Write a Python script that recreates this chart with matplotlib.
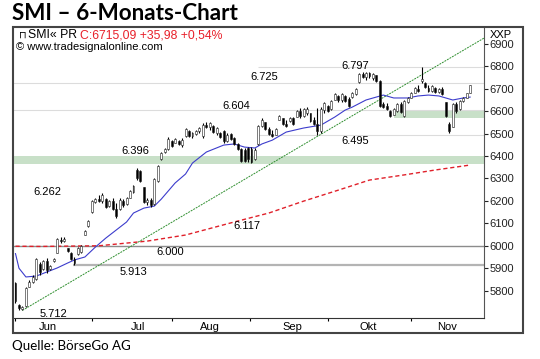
import matplotlib
matplotlib.use('Agg')
import matplotlib.pyplot as plt
from matplotlib.patches import Rectangle
from matplotlib.transforms import blended_transform_factory

# SMI daily bars, trading days from start of June
opens = [5832, 5735, 5720, 5730, 5818, 5838, 5850, 5920, 5895, 5930, 5895, 5930, 5970, 6025, 6020, 5988,
         5970, 5940, 5962, 5972, 6050, 6086, 6150, 6195, 6210, 6200, 6210, 6176, 6200, 6165, 6162, 6200,
         6185, 6215, 6240, 6340, 6335, 6262, 6195, 6205, 6185, 6290, 6385, 6418, 6430, 6468, 6460, 6468,
         6450, 6488, 6510, 6490, 6500, 6510, 6490, 6540, 6530, 6535, 6505, 6505, 6510, 6465, 6498, 6480,
         6455, 6430, 6425, 6435, 6432, 6385, 6452, 6535, 6550, 6520, 6498, 6495, 6563, 6568, 6545, 6555,
         6570, 6576, 6600, 6580, 6590, 6590, 6560, 6545, 6512, 6605, 6625, 6608, 6652, 6670, 6648, 6668,
         6655, 6662, 6675, 6730, 6765, 6752, 6770, 6750, 6760, 6735, 6630, 6625, 6600, 6585, 6600, 6630,
         6580, 6640, 6660, 6683, 6700, 6735, 6728, 6705, 6690, 6705, 6685, 6700, 6640, 6545, 6530, 6630,
         6608, 6645, 6660, 6682]
highs = [5840, 5740, 5730, 5816, 5847, 5870, 5946, 5928, 5937, 5946, 5915, 5946, 6034, 6039, 6039, 5990,
         5972, 5950, 5994, 6003, 6070, 6115, 6204, 6213, 6226, 6235, 6213, 6204, 6213, 6191, 6213, 6208,
         6217, 6249, 6271, 6347, 6338, 6262, 6213, 6213, 6302, 6360, 6418, 6436, 6485, 6471, 6480, 6471,
         6480, 6525, 6516, 6507, 6516, 6529, 6547, 6552, 6552, 6538, 6529, 6507, 6516, 6503, 6503, 6485,
         6458, 6436, 6436, 6440, 6440, 6436, 6538, 6570, 6552, 6529, 6516, 6525, 6583, 6570, 6561, 6574,
         6574, 6605, 6614, 6614, 6618, 6592, 6574, 6614, 6618, 6641, 6627, 6650, 6681, 6672, 6681, 6672,
         6663, 6685, 6703, 6770, 6774, 6774, 6774, 6770, 6761, 6739, 6641, 6636, 6605, 6614, 6636, 6641,
         6650, 6663, 6685, 6708, 6717, 6797, 6730, 6717, 6717, 6708, 6703, 6708, 6641, 6552, 6636, 6641,
         6650, 6663, 6681, 6717]
lows = [5745, 5715, 5712, 5727, 5816, 5834, 5847, 5870, 5892, 5879, 5892, 5928, 5968, 6012, 6017, 5972,
        5937, 5913, 5959, 5968, 6048, 6084, 6146, 6191, 6195, 6191, 6168, 6173, 6159, 6124, 6159, 6173,
        6182, 6213, 6235, 6293, 6284, 6191, 6182, 6173, 6182, 6284, 6382, 6414, 6427, 6440, 6458, 6449,
        6440, 6485, 6485, 6480, 6494, 6503, 6480, 6525, 6516, 6503, 6494, 6480, 6458, 6462, 6471, 6449,
        6427, 6373, 6373, 6373, 6369, 6382, 6449, 6529, 6516, 6494, 6485, 6494, 6561, 6538, 6529, 6552,
        6538, 6574, 6570, 6574, 6583, 6552, 6538, 6495, 6503, 6592, 6596, 6605, 6650, 6641, 6641, 6641,
        6618, 6659, 6672, 6726, 6748, 6739, 6748, 6739, 6730, 6618, 6614, 6605, 6574, 6583, 6596, 6592,
        6574, 6636, 6659, 6681, 6685, 6726, 6703, 6685, 6685, 6681, 6681, 6672, 6574, 6505, 6529, 6592,
        6605, 6641, 6659, 6681]
closes = [5752, 5722, 5726, 5810, 5840, 5862, 5940, 5885, 5930, 5890, 5910, 5942, 6030, 6020, 6030, 5976,
          5940, 5925, 5990, 6000, 6066, 6110, 6200, 6208, 6200, 6228, 6175, 6198, 6165, 6135, 6205, 6180,
          6212, 6245, 6265, 6300, 6290, 6195, 6205, 6180, 6298, 6355, 6412, 6430, 6478, 6445, 6475, 6452,
          6470, 6520, 6490, 6502, 6512, 6525, 6540, 6530, 6548, 6508, 6525, 6485, 6465, 6495, 6475, 6455,
          6432, 6380, 6378, 6385, 6375, 6428, 6532, 6560, 6522, 6500, 6490, 6520, 6580, 6545, 6535, 6570,
          6545, 6600, 6580, 6608, 6612, 6558, 6545, 6510, 6608, 6635, 6600, 6645, 6676, 6648, 6675, 6645,
          6622, 6680, 6698, 6765, 6752, 6770, 6755, 6765, 6735, 6625, 6620, 6610, 6580, 6608, 6630, 6598,
          6645, 6658, 6680, 6702, 6690, 6745, 6708, 6690, 6712, 6685, 6700, 6678, 6578, 6512, 6630, 6600,
          6645, 6658, 6679, 6715]

# short moving average (blue)
ma_days = [0, 1, 3, 6, 9, 12, 15, 17, 20, 23, 26, 29, 32, 34, 37, 40, 42, 46, 49, 51, 55, 60, 63, 66,
           69, 71, 74, 78, 83, 88, 92, 95, 97, 101, 106, 109, 113, 116, 119, 122, 126, 129, 131]
ma_vals = [5965, 5900, 5861, 5865, 5883, 5901, 5923, 5937, 5950, 5994, 6034, 6070, 6106, 6146, 6168,
           6177, 6208, 6280, 6320, 6369, 6418, 6449, 6454, 6440, 6436, 6454, 6471, 6507, 6525, 6538, 6574,
           6605, 6618, 6650, 6672, 6659, 6659, 6668, 6672, 6668, 6650, 6659, 6663]

# long moving average (red dashed)
ma200_days = [0, 7, 24, 38, 49, 63, 73, 83, 93, 102, 112, 121, 131]
ma200_vals = [5998, 5997, 6000, 6021, 6048, 6106, 6146, 6199, 6248, 6293, 6316, 6338, 6360]

# trend line (green)
trend_days = [2, 135]
trend_vals = [5712, 6926]

# marked levels: (text, day, price)
level_labels = [('6.797', 97.8, 6801), ('6.725', 71.6, 6754), ('6.604', 63.5, 6623), ('6.495', 97.8, 6467),
                ('6.396', 34.4, 6422), ('6.262', 9.1, 6240), ('6.117', 66.7, 6088), ('6.000', 44.5, 5972),
                ('5.913', 33.9, 5883), ('5.712', 10.8, 5696)]

month_ticks = [0, 22, 45, 67.5, 90, 114]
month_names = ['Jun', 'Jul', 'Aug', 'Sep', 'Okt', 'Nov']
month_label_pos = [9.4, 35.3, 56, 79.7, 101.6, 124.3]
price_ticks = list(range(5800, 7000, 100))

W, H = 540, 359
fig = plt.figure(figsize=(W / 100, H / 100), dpi=100)
ax = fig.add_axes([13 / W, 1 - 318 / H, 471 / W, 290 / H])
ax.set_xlim(-0.72, 135.0)
ax.set_ylim(5678, 6971)

font = 'Liberation Sans'

# support bands
ax.axhspan(6364, 6400, color='#c8e0c8', zorder=1, lw=0)
ax.fill_between([109, 135], 6570, 6605, color='#c8e0c8', zorder=1, lw=0)

# level lines
for lvl, start in [(6797, 70), (6725, -1), (6604, -1), (6495, 70)]:
    ax.hlines(lvl, start, 135, color='#dcdcdc', lw=0.8, zorder=1)
ax.hlines(6000, -1, 135, color='#8c8c8c', lw=1.0, zorder=2)
ax.hlines(5913, 16.5, 135, color='#b4b4b4', lw=1.6, zorder=2)

ax.plot(trend_days, trend_vals, color='#2f8f2f', lw=0.7, ls=(0, (2, 1)), zorder=3)
ax.plot(ma200_days, ma200_vals, color='#e0202a', lw=1.0, ls=(0, (3, 2)), zorder=3)
ax.plot(ma_days, ma_vals, color='#3c3ccc', lw=0.8, zorder=3)

days = list(range(len(closes)))
ax.vlines(days, lows, highs, color='black', lw=0.8, zorder=4)
for d, o, c in zip(days, opens, closes):
    down = c < o
    ax.add_patch(Rectangle((d - 0.28, min(o, c)), 0.56, max(abs(c - o), 2),
                           facecolor='black' if down else 'white', edgecolor='#202020',
                           lw=0.4, zorder=5))

for txt, d, p in level_labels:
    ax.text(d, p, txt, ha='center', va='center', fontsize=8, family=font, zorder=6)

# axes styling
for side in ['top', 'left']:
    ax.spines[side].set_visible(False)
ax.spines['right'].set_color('#555555')
ax.spines['bottom'].set_color('#333333')
ax.yaxis.tick_right()
ax.set_yticks(price_ticks)
ax.set_yticklabels([str(t) for t in price_ticks], family=font, fontsize=8)
ax.tick_params(axis='y', direction='out', length=3, width=0.8, pad=1, colors='#222222')
ax.set_xticks(month_ticks)
ax.set_xticklabels([])
ax.tick_params(axis='x', direction='out', length=2, width=0.8)

trans = blended_transform_factory(ax.transData, ax.transAxes)
for name, pos in zip(month_names, month_label_pos):
    ax.text(pos, -0.031, name, transform=trans, ha='center', va='center', fontsize=8, family=font)

ax.text(1.012, 0.976, 'XXP', transform=ax.transAxes, ha='left', va='center', fontsize=8, family=font)

# chart header
fig.text(19 / W, 1 - 35 / H, '\u2293', fontsize=7, family='DejaVu Sans', va='center')
t1 = fig.text(28 / W, 1 - 35 / H, 'SMI\u00ab PR ', fontsize=8.8, family=font, va='center')
fig.canvas.draw()
bb = t1.get_window_extent()
fig.text(bb.x1 / W, 1 - 35 / H, 'C:6715,09 +35,98 +0,54%', fontsize=8.8, family=font,
         va='center', color='#e8202a')
fig.text(16 / W, 1 - 47 / H, '\u00a9 www.tradesignalonline.com', fontsize=8, family=font, va='center')

# outer frame
fig.patches.append(Rectangle((13 / W, 1 - 333 / H), 510 / W, 306 / H, transform=fig.transFigure,
                             fill=False, edgecolor='#444444', lw=1.5))

fig.text(12 / W, 1 - 14 / H, 'SMI \u2013 6-Monats-Chart', fontsize=16.2, fontweight='bold',
         family='Lato', va='center')
fig.text(12 / W, 1 - 346 / H, 'Quelle: BörseGo AG', fontsize=9.6, family='Lato', va='center')

fig.savefig('out.png', dpi=100)
